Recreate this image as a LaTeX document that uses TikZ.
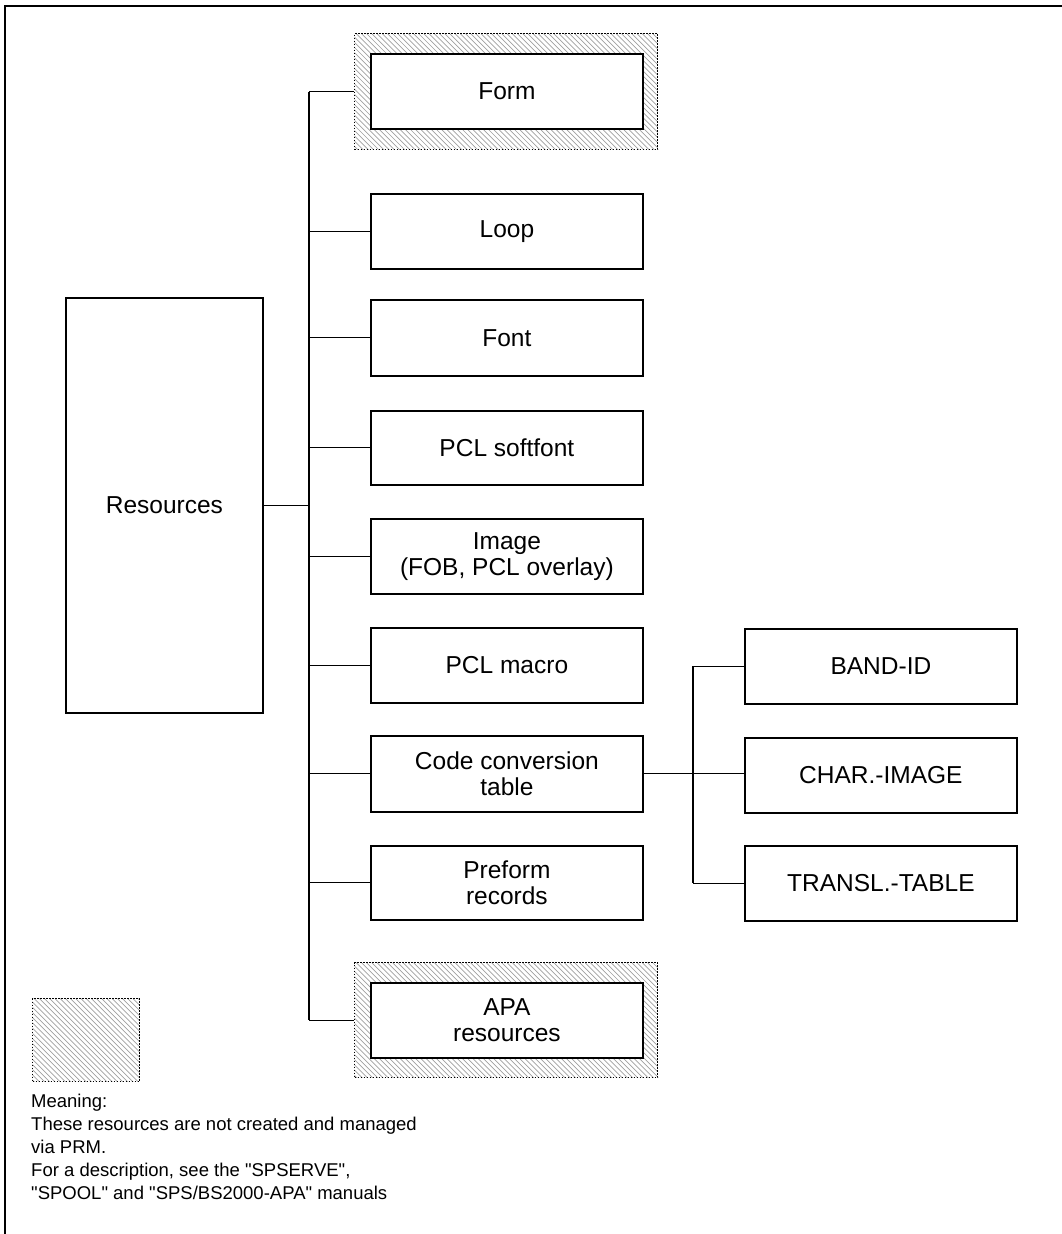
\documentclass[tikz,border=0pt]{standalone}
\usepackage{fontspec}
\setmainfont{Liberation Sans}[Ligatures=TeXOff]
\begin{document}
\begin{tikzpicture}[x=1pt,y=-1pt,
  box/.style={draw, line width=1.8pt, fill=white, anchor=north west, inner sep=0pt,
    minimum width=272pt, minimum height=75pt, align=center,
    font=\fontsize{24.5}{25.5}\selectfont},
  hatched/.style={draw=black, dash pattern=on 1.6pt off 1.4pt, line width=1.2pt,
    anchor=north west, inner sep=0pt,
    path picture={\foreach \i in {-170,-164.8,...,330}
      \draw[solid, gray!75, line width=0.7pt]
        ([xshift=\i pt]path picture bounding box.north west) -- ++(170,170);}},
  conn/.style={line width=1.1pt},
  legendtext/.style={anchor=north west, align=left, inner sep=0pt,
    font=\fontsize{18.5}{23}\selectfont}
]
\useasboundingbox (0,0) rectangle (1062,1234);

% page frame (top and left edges)
\draw[line width=2pt] (1062,6) -- (5,6) -- (5,1234);

% root
\node[box, minimum width=197pt, minimum height=415pt] (res) at (65,297) {Resources};

% hatched surrounds for resources not managed via PRM
\node[hatched, minimum width=303pt, minimum height=116pt] (formhalo) at (354,33) {};
\node[hatched, minimum width=303pt, minimum height=115pt] (apahalo) at (354,962) {};

% first level
\node[box] (form)    at (370,53)  {Form};
\node[box] (loop)    at (370,193) {Loop};
\node[box, minimum height=76pt] (font) at (370,299) {Font};
\node[box, minimum height=74pt] (soft) at (370,410) {PCL softfont};
\node[box] (image)   at (370,518) {Image\\(FOB, PCL overlay)};
\node[box] (macro)   at (370,627) {PCL macro};
\node[box, minimum height=76pt] (code) at (370,735) {Code conversion\\table};
\node[box, minimum height=74pt] (preform) at (370,845) {Preform\\records};
\node[box] (apa)     at (370,982) {APA\\resources};

% second level under the code conversion table
\node[box] (band)  at (744,628) {BAND-ID};
\node[box] (char)  at (744,737) {CHAR.-IMAGE};
\node[box] (trans) at (744,845) {TRANSL.-TABLE};

% main trunk
\coordinate (tt) at (309,0);
\draw[conn] (res.east) -- (res.east -| tt);
\draw[conn] (formhalo.west -| tt) -- (apahalo.west -| tt);
\foreach \n in {formhalo, loop, font, soft, image, macro, code, preform, apahalo}
  \draw[conn] (tt |- \n.west) -- (\n.west);

% branch of the code conversion table
\coordinate (rt) at (693,0);
\draw[conn] (code.east) -- (code.east -| char.west);
\draw[conn] (rt |- band.west) -- (rt |- trans.west);
\foreach \n in {band, trans}
  \draw[conn] (rt |- \n.west) -- (\n.west);

% legend
\node[hatched, minimum width=107pt, minimum height=83pt] (legend) at (32,998) {};
\node[legendtext] (meaning) at (31,1094) {Meaning:\\
These resources are not created and managed\\
via PRM.\\
For a description, see the "SPSERVE",\\
"SPOOL" and "SPS/BS2000-APA" manuals};
\end{tikzpicture}
\end{document}
